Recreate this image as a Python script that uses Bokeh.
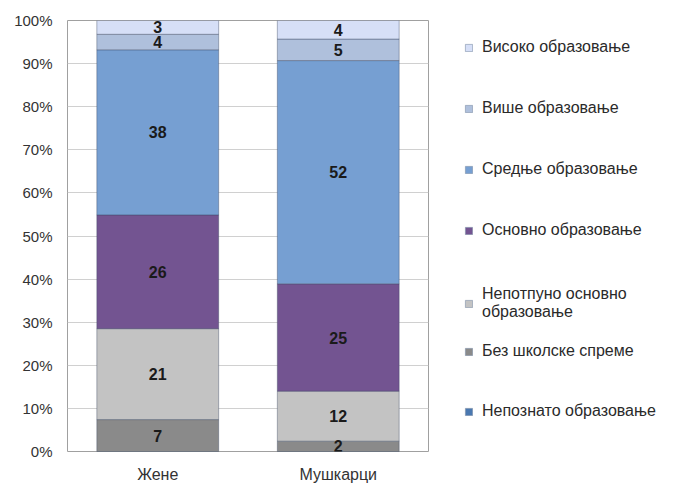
import numpy as np
from bokeh.plotting import figure
from bokeh.layouts import row
from bokeh.models import (ColumnDataSource, FactorRange, Range1d, Legend, LegendItem,
                          PrintfTickFormatter, FixedTicker, LabelSet)
from bokeh.core.properties import value
from bokeh.embed import file_html
from bokeh.resources import INLINE

# ---- data -------------------------------------------------------------
categories = ["Жене", "Мушкарци"]
levels = [
    "Непознато образовање",
    "Без школске спреме",
    "Непотпуно основно образовање",
    "Основно образовање",
    "Средње образовање",
    "Више образовање",
    "Високо образовање",
]
legend_labels = [
    "Непознато образовање",
    "Без школске спреме",
    "Непотпуно основно\nобразовање",
    "Основно образовање",
    "Средње образовање",
    "Више образовање",
    "Високо образовање",
]
zene = [0.0, 7.4, 21.1, 26.4, 38.3, 3.6, 3.2]
muskarci = [0.0, 2.4, 11.6, 24.9, 51.8, 5.0, 4.3]
colors = ["#4A78B0", "#8A8A8A", "#C3C3C3", "#735491", "#769FD2", "#AFC0DC", "#D6DFF7"]
y_ticks = [0, 10, 20, 30, 40, 50, 60, 70, 80, 90, 100]

FONT = "Liberation Sans"

data = {"cat": categories}
for lvl, z, m in zip(levels, zene, muskarci):
    data[lvl] = [z, m]
src = ColumnDataSource(data)

p = figure(x_range=FactorRange(*categories, range_padding=0),
           y_range=Range1d(0, 100),
           width=429, height=485,
           output_backend="svg", toolbar_location=None,
           min_border_left=67, min_border_right=1,
           min_border_top=20, min_border_bottom=34)

rs = p.vbar_stack(levels, x="cat", width=0.675, source=src,
                  fill_color=colors, line_color="#3a4560",
                  line_alpha=0.5, line_width=0.8)

# segment labels
lx, ly, lt = [], [], []
for cat, vals in zip(categories, [zene, muskarci]):
    cum = np.cumsum([0.0] + vals)
    for i, v in enumerate(vals):
        if v >= 1:
            lx.append(cat)
            ly.append((cum[i] + cum[i + 1]) / 2)
            lt.append(f"{v:.0f}")
lsrc = ColumnDataSource(dict(x=lx, y=ly, t=lt))
p.add_layout(LabelSet(x="x", y="y", text="t", source=lsrc,
                      text_align="center", text_baseline="middle",
                      text_font=value(FONT), text_font_size=value("16px"),
                      text_font_style="bold", text_color="#1a1a1a"))

# axes / grid
p.yaxis.ticker = FixedTicker(ticks=y_ticks)
p.yaxis.formatter = PrintfTickFormatter(format="%d%%")
for ax in (p.xaxis, p.yaxis):
    ax.axis_line_color = None
    ax.major_tick_line_color = None
    ax.minor_tick_line_color = None
    ax.major_tick_out = 0
    ax.major_tick_in = 0
    ax.major_label_text_font = FONT
    ax.major_label_text_color = "#333333"
p.yaxis.major_label_text_font_size = "15px"
p.yaxis.major_label_standoff = 15
p.xaxis.major_label_text_font_size = "16px"
p.xaxis.major_label_standoff = 14

p.xgrid.grid_line_color = None
p.ygrid.grid_line_color = "#D0D0D0"
p.ygrid.grid_line_width = 1
p.outline_line_color = "#A0A0A0"
p.outline_line_width = 1
p.background_fill_color = "white"
p.border_fill_color = "white"

# ---- legend panel -------------------------------------------------------
q = figure(width=246, height=485, x_range=Range1d(0, 1), y_range=Range1d(0, 1),
           output_backend="svg", toolbar_location=None,
           min_border=0, outline_line_color=None)
q.axis.visible = False
q.grid.visible = False
q.border_fill_color = "white"

dummy = ColumnDataSource(dict(x=[5], top=[6], bottom=[5]))
qrs = [q.vbar(x="x", top="top", bottom="bottom", width=0.1, source=dummy,
              fill_color=c, line_color="#8090a8", line_width=0.6)
       for c in colors]
items = [LegendItem(label=legend_labels[i], renderers=[qrs[i]])
         for i in range(len(levels))][::-1]

def make_legend(its, loc, spacing):
    lg = Legend(items=its, location=loc, orientation="vertical",
                glyph_width=9, glyph_height=9, label_standoff=9,
                padding=0, margin=0, spacing=spacing,
                border_line_color=None, background_fill_alpha=0,
                label_text_font=FONT, label_text_font_size="16px",
                label_text_color="#2a2a2a", label_height=20,
                label_text_line_height=1.39)
    q.add_layout(lg)
    return lg

make_legend(items[0:4], (35, 211), 41)
make_legend(items[4:5], (35, 130), 0)
make_legend(items[5:7], (35, 30), 40)

layout = row(p, q, spacing=0)
open("out.html", "w").write(file_html(layout, INLINE))
